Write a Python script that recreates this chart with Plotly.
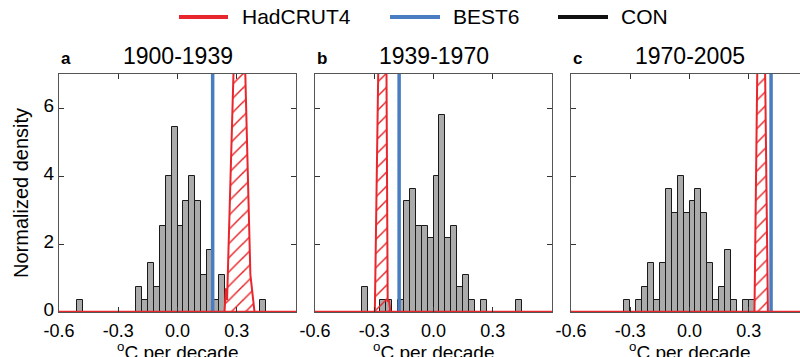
import plotly.graph_objects as go

# ---------------- data ----------------
BIN_WIDTH = 0.03
periods = ["1900-1939", "1939-1970", "1970-2005"]
panel_letters = ["a", "b", "c"]

# CON (control run) trend histograms: left bin edges and counts
con_edges_a = [-0.51, -0.21, -0.18, -0.15, -0.12, -0.09, -0.06, -0.03, 0.00, 0.03,
               0.06, 0.09, 0.12, 0.15, 0.18, 0.21, 0.42]
con_counts_a = [1, 2, 1, 4, 2, 7, 11, 15, 7, 9, 11, 9, 3, 5, 1, 3, 1]

con_edges_b = [-0.36, -0.27, -0.24, -0.18, -0.15, -0.12, -0.09, -0.06, -0.03, 0.00,
               0.03, 0.06, 0.09, 0.12, 0.15, 0.18, 0.24, 0.42]
con_counts_b = [2, 1, 1, 1, 9, 10, 7, 7, 6, 11, 16, 6, 7, 2, 3, 1, 1, 1]

con_edges_c = [-0.33, -0.27, -0.24, -0.21, -0.18, -0.15, -0.12, -0.09, -0.06, -0.03,
               0.00, 0.03, 0.06, 0.09, 0.12, 0.15, 0.18, 0.21, 0.27, 0.30]
con_counts_c = [1, 1, 2, 4, 1, 4, 10, 8, 11, 8, 9, 10, 8, 4, 1, 2, 5, 1, 1, 1]

# HadCRUT4 ensemble trend density (narrow peak, runs off the top of the axes)
had_x_a = [-0.6, 0.238, 0.245, 0.251, 0.315, 0.368, 0.369, 0.39, 0.6]
had_y_a = [0.0, 0.0, 0.7, 0.35, 13.5, 1.65, 1.1, 0.0, 0.0]

had_x_b = [-0.6, -0.297, -0.2493, -0.232, -0.226, -0.218, 0.6]
had_y_b = [0.0, 0.0, 19.6, 0.3, 0.35, 0.0, 0.0]

had_x_c = [-0.6, 0.329, 0.363, 0.397, 0.6]
had_y_c = [0.0, 0.0, 17.0, 0.0, 0.0]

# BEST6 trend (very narrow density -> vertical line)
best_trend = [0.178, -0.174, 0.413]
best_peak = 60.0

y_ticks = [0, 2, 4, 6]
x_ticks = [-0.6, -0.3, 0.0, 0.3]
x_tick_text = ["-0.6", "-0.3", "0.0", "0.3"]

# ---------------- style ----------------
RED = "#e8262b"
BLUE = "#4a7cc2"
GRAY = "#ababab"
FONT = "Liberation Sans, Arial, Helvetica, sans-serif"

W, H = 800, 357
ML, MR, MT, MB = 59, 0, 74, 45
PW = W - ML - MR
PH = H - MT - MB

def px_x(p):
    return (p - ML) / PW

def px_y(p):
    return (H - MB - p) / PH

# panel pixel extents
panel_px = [(59, 296), (315, 552), (571, 800)]
px_per_unit = (296 - 59) / 1.2

fig = go.Figure()

con_edges = [con_edges_a, con_edges_b, con_edges_c]
con_counts = [con_counts_a, con_counts_b, con_counts_c]
had_x = [had_x_a, had_x_b, had_x_c]
had_y = [had_y_a, had_y_b, had_y_c]

for i in range(3):
    xa = "x" if i == 0 else f"x{i+1}"
    ya = "y" if i == 0 else f"y{i+1}"
    total = sum(con_counts[i])
    centers = [e + BIN_WIDTH / 2 for e in con_edges[i]]
    dens = [c / (total * BIN_WIDTH) for c in con_counts[i]]
    fig.add_trace(go.Bar(
        x=centers, y=dens, width=[BIN_WIDTH] * len(centers),
        marker=dict(color=GRAY, line=dict(color="#1a1a1a", width=1)),
        xaxis=xa, yaxis=ya, showlegend=False, name="CON"))
    fig.add_trace(go.Scatter(
        x=had_x[i], y=had_y[i], mode="lines",
        line=dict(color=RED, width=2),
        fill="tozeroy", fillcolor="rgba(0,0,0,0)",
        fillpattern=dict(shape="/", fgcolor=RED, bgcolor="rgba(0,0,0,0)",
                         size=10, solidity=0.15, fgopacity=1),
        xaxis=xa, yaxis=ya, showlegend=False, name="HadCRUT4"))
    fig.add_trace(go.Scatter(
        x=[best_trend[i], best_trend[i]], y=[0, best_peak], mode="lines",
        line=dict(color=BLUE, width=3.5),
        xaxis=xa, yaxis=ya, showlegend=False, name="BEST6"))
    fig.add_trace(go.Scatter(
        x=[had_x[i][0], had_x[i][-1]], y=[0, 0], mode="lines",
        line=dict(color=RED, width=2.5),
        xaxis=xa, yaxis=ya, showlegend=False, hoverinfo="skip"))

layout = dict(
    width=W, height=H,
    margin=dict(l=ML, r=MR, t=MT, b=MB),
    paper_bgcolor="white", plot_bgcolor="white",
    font=dict(family=FONT, color="black", size=19),
    bargap=0, barmode="overlay",
    showlegend=False,
)

for i in range(3):
    l, r = panel_px[i]
    xr_hi = -0.6 + (r - l) / px_per_unit
    xkey = "xaxis" if i == 0 else f"xaxis{i+1}"
    ykey = "yaxis" if i == 0 else f"yaxis{i+1}"
    xa = "x" if i == 0 else f"x{i+1}"
    ya = "y" if i == 0 else f"y{i+1}"
    layout[xkey] = dict(
        domain=[px_x(l), px_x(r)], range=[-0.6, xr_hi], anchor=ya,
        tickvals=x_ticks, ticktext=x_tick_text, ticks="inside", ticklen=5,
        tickcolor="#333", showline=True, linecolor="#555", linewidth=1,
        mirror="ticks", showgrid=False, zeroline=False,
        tickfont=dict(size=18), ticklabelstandoff=2,
    )
    layout[ykey] = dict(
        domain=[0, 1], range=[0, 7], anchor=xa,
        tickvals=y_ticks, ticks="inside", ticklen=5, tickcolor="#333",
        showline=True, linecolor="#555", linewidth=1,
        mirror="ticks" if i < 2 else False, showgrid=False, zeroline=False,
        showticklabels=(i == 0), tickfont=dict(size=19), ticklabelshift=-3,
    )

fig.update_layout(**layout)

annotations = []
shapes = []
for i in range(3):
    l, r = panel_px[i]
    full_r = l + 237
    annotations.append(dict(
        text=f"<b>{panel_letters[i]}</b>", x=px_x(l), y=px_y(58), xref="paper", yref="paper",
        xanchor="left", yanchor="middle", showarrow=False, font=dict(size=17)))
    annotations.append(dict(
        text=periods[i], x=px_x((l + full_r) / 2), y=px_y(56), xref="paper", yref="paper",
        xanchor="center", yanchor="middle", showarrow=False, font=dict(size=23)))
    annotations.append(dict(
        text="<sup>o</sup>C per decade", x=px_x((l + full_r) / 2), y=px_y(351),
        xref="paper", yref="paper", xanchor="center", yanchor="middle",
        showarrow=False, font=dict(size=19)))

annotations.append(dict(
    text="Normalized density", x=px_x(21), y=px_y(193), xref="paper", yref="paper",
    xanchor="center", yanchor="middle", textangle=-90, showarrow=False,
    font=dict(size=20)))

legend_items = [("HadCRUT4", RED, 179, 228, 240), ("BEST6", BLUE, 390, 440, 451),
                ("CON", "#111111", 558, 608, 619)]
for name, col, x0, x1, tx in legend_items:
    shapes.append(dict(type="line", xref="paper", yref="paper",
                       x0=px_x(x0), x1=px_x(x1), y0=px_y(17), y1=px_y(17),
                       line=dict(color=col, width=4)))
    annotations.append(dict(text=name, x=px_x(tx), y=px_y(17), xref="paper", yref="paper",
                            xanchor="left", yanchor="middle", showarrow=False,
                            font=dict(size=21)))

fig.update_layout(annotations=annotations, shapes=shapes)
fig.write_html("out.html", config={"displayModeBar": False},
               post_script="document.body.style.margin='0px';document.body.style.overflow='hidden';")
